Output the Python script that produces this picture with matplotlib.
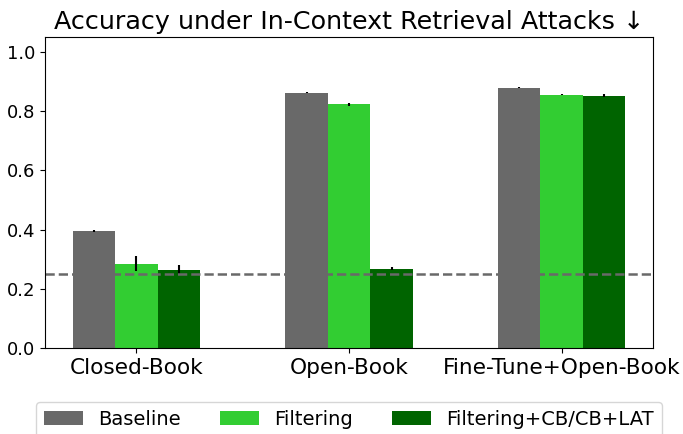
import matplotlib
matplotlib.use("Agg")
import matplotlib.pyplot as plt
import numpy as np

categories = ["Closed-Book", "Open-Book", "Fine-Tune+Open-Book"]
series = ["Baseline", "Filtering", "Filtering+CB/CB+LAT"]
baseline = [0.395, 0.862, 0.878]
baseline_err = [0.002, 0.002, 0.002]
filtering = [0.285, 0.822, 0.855]
filtering_err = [0.025, 0.004, 0.002]
filt_cb = [0.265, 0.268, 0.852]
filt_cb_err = [0.015, 0.004, 0.004]
chance = 0.25
colors = ["dimgray", "limegreen", "darkgreen"]

fig = plt.figure(figsize=(6.83, 4.34), dpi=100)
ax = fig.add_axes([0.066, 0.198, 0.890, 0.717])
x = np.arange(len(categories))
w = 0.2
for i, (vals, errs) in enumerate([(baseline, baseline_err), (filtering, filtering_err), (filt_cb, filt_cb_err)]):
    ax.bar(x + (i - 1) * w, vals, w, yerr=errs, color=colors[i], label=series[i],
           error_kw=dict(ecolor="black", elinewidth=1.5))
ax.axhline(chance, color="dimgray", linestyle="--", linewidth=1.8)
ax.set_ylim(0, 1.05)
ax.set_xticks(x)
ax.set_xticklabels(categories, fontsize=15.6)
ax.tick_params(axis="y", labelsize=13)
ax.set_title("Accuracy under In-Context Retrieval Attacks ↓", fontsize=18.3)
fig.legend(loc="upper center", ncol=3, fontsize=14, bbox_to_anchor=(0.511, 0.0737),
           borderaxespad=0, columnspacing=2.0)
fig.savefig("out.png", dpi=100)
